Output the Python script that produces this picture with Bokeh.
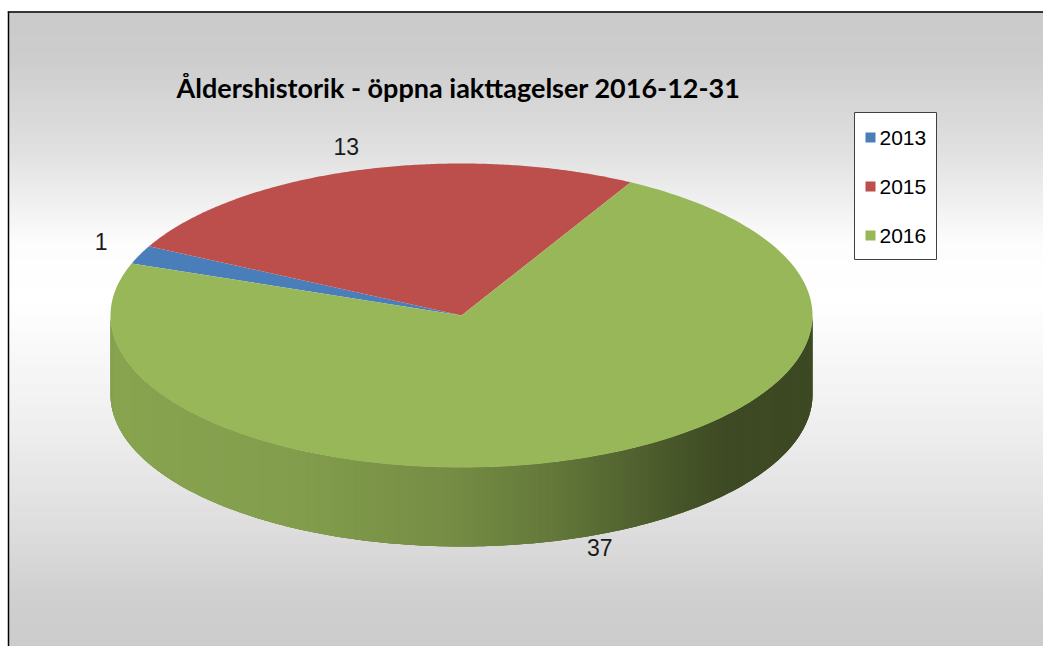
import numpy as np
from bokeh.plotting import figure
from bokeh.models import Range1d
from bokeh.core.properties import value
from bokeh.embed import file_html
from bokeh.resources import INLINE

# ---- data ----
title_text = "Åldershistorik - öppna iakttagelser 2016-12-31"
categories = ["2013", "2015", "2016"]
counts = [1, 13, 37]
colors = ["#4a7ebb", "#bc4f4c", "#98b759"]

# ---- layout / style constants ----
W, H = 1043, 646
CX, CY, RX, RY, DEPTH = 461.0, 315.0, 351.0, 152.0, 79.0
START_DEG = 160.0

p = figure(width=W, height=H, x_range=Range1d(0, W), y_range=Range1d(H, 0),
           output_backend="svg", toolbar_location=None, min_border=0)
p.axis.visible = False
p.grid.visible = False
p.outline_line_color = None
p.background_fill_color = "white"
p.border_fill_color = "white"

# background gradient (chart area)
stops_y = [11, 60, 150, 245, 300, 420, 520, 600, 660]
stops_v = [195, 198, 220, 253, 255, 237, 218, 200, 196]
ys = np.arange(11, H + 1)
vals = np.interp(ys, stops_y, stops_v).round().astype(int)
bg_colors = ["#%02x%02x%02x" % (v, v, v) for v in vals]
p.quad(left=8, right=W, top=ys, bottom=ys + 1.2, fill_color=bg_colors, line_color=None)

# chart border (top and left visible)
p.line([8, 8], [11, H], line_color="black", line_width=1.5)
p.line([7.3, W], [11.5, 11.5], line_color="black", line_width=1.5)

# ---- pie geometry from data ----
vals_arr = np.array(counts, dtype=float)
frac = vals_arr / vals_arr.sum()
bounds = START_DEG - np.concatenate([[0], np.cumsum(frac)]) * 360.0  # clockwise


def hex2rgb(h):
    h = h.lstrip("#")
    return tuple(int(h[i:i + 2], 16) for i in (0, 2, 4))


def slice_of(angle_deg):
    for i in range(len(counts)):
        hi, lo = bounds[i], bounds[i + 1]
        aa = angle_deg
        while aa > hi:
            aa -= 360
        while aa < lo:
            aa += 360
        if lo <= aa <= hi:
            return i
    return len(counts) - 1


# side (front half) with horizontal shading
shade_x = [110, 300, 450, 550, 650, 720, 812]
shade_f = [0.90, 0.86, 0.77, 0.66, 0.51, 0.41, 0.40]
N = 300
ts = np.linspace(180, 360, N + 1)
tb = np.radians(ts)
bx = np.concatenate([CX + RX * np.cos(tb), (CX + RX * np.cos(tb))[::-1]])
by = np.concatenate([CY - RY * np.sin(tb), (CY - RY * np.sin(tb) + DEPTH)[::-1]])
r0, g0, b0 = hex2rgb(colors[-1])
p.patch(bx, by, fill_color="#%02x%02x%02x" % (int(r0 * 0.6), int(g0 * 0.6), int(b0 * 0.6)), line_color=None)
xs_side, ys_side, side_cols = [], [], []
for i in range(N):
    t0, t1 = np.radians(ts[i]), np.radians(ts[min(i + 2, N)])
    x0, x1 = CX + RX * np.cos(t0), CX + RX * np.cos(t1)
    y0, y1 = CY - RY * np.sin(t0), CY - RY * np.sin(t1)
    xs_side.append([x0, x1, x1, x0])
    ys_side.append([y0, y1, y1 + DEPTH, y0 + DEPTH])
    k = slice_of(ts[i] + 0.3)
    f = np.interp(x0, shade_x, shade_f)
    r, g, b = hex2rgb(colors[k])
    side_cols.append("#%02x%02x%02x" % (int(r * f), int(g * f), int(b * f)))
p.patches(xs_side, ys_side, fill_color=side_cols, line_color=None)

# top face wedges
wx, wy = [], []
for i in range(len(counts)):
    t = np.radians(np.linspace(bounds[i], bounds[i + 1], 200))
    wx.append(np.concatenate([[CX], CX + RX * np.cos(t)]).tolist())
    wy.append(np.concatenate([[CY], CY - RY * np.sin(t)]).tolist())
p.patches(wx, wy, fill_color=colors, line_color=None)

# data labels
mids = np.radians((bounds[:-1] + bounds[1:]) / 2)
lx = CX + 1.12 * RX * np.cos(mids)
ly = CY - 1.12 * RY * np.sin(mids) + np.where(np.sin(mids) < 0, DEPTH, 0) - 6
p.text(x=lx, y=ly, text=[str(c) for c in counts], text_align="center", text_baseline="middle",
       text_font=value("Liberation Sans"), text_font_size="23px", text_color="#1a1a1a")

# title
p.text(x=[458], y=[87], text=[title_text], text_align="center", text_baseline="middle",
       text_font=value("Lato"), text_font_style="bold", text_font_size="27px", text_color="black")

# legend
p.quad(left=[854], right=[936], top=[112], bottom=[259], fill_color="white",
       line_color="#404040", line_width=1)
leg_y = [137 + 49 * i for i in range(len(categories))]
p.rect(x=[870] * len(categories), y=leg_y, width=10, height=10, fill_color=colors, line_color=None)
p.text(x=[879] * len(categories), y=leg_y, text=categories, text_align="left", text_baseline="middle",
       text_font=value("Liberation Sans"), text_font_size="21px", text_color="black")

open("out.html", "w").write(file_html(p, INLINE))
